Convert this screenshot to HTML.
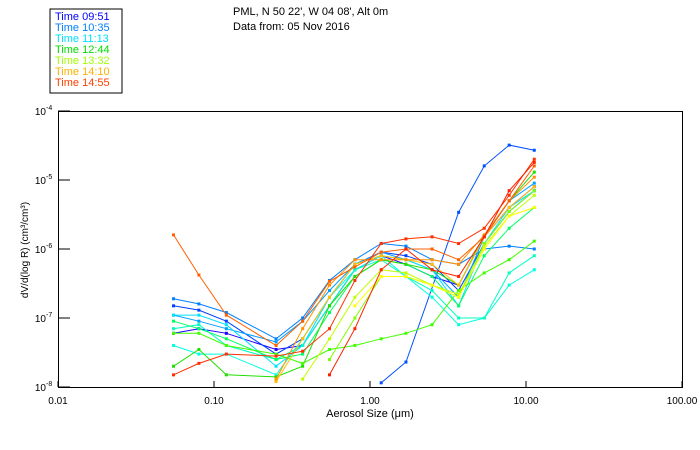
<!DOCTYPE html>
<html><head><meta charset="utf-8"><style>
body{margin:0;background:#fff;}
svg{display:block;font-family:"Liberation Sans",sans-serif;}
</style></head><body>
<svg id="chart" width="700" height="450">
<rect x="50" y="9" width="72" height="84" fill="#fff" stroke="#000"/>
<g id="legend" font-size="11"></g>
<text x="233" y="15" font-size="11">PML, N 50 22', W 04 08', Alt 0m</text>
<text x="233" y="30" font-size="11">Data from: 05 Nov 2016</text>
<g id="axes"></g>
<g id="series"></g>
<text x="370" y="417" font-size="11" text-anchor="middle">Aerosol Size (μm)</text>
<text transform="translate(28,250) rotate(-90)" font-size="10" text-anchor="middle">dV/d(log R) (cm³/cm³)</text>
</svg>
<script>
const sizes=[0.055,0.08,0.12,0.25,0.37,0.55,0.8,1.18,1.7,2.5,3.7,5.4,7.8,11.3];
const legendLabels=["Time 09:51","Time 10:35","Time 11:13","Time 12:44","Time 13:32","Time 14:10","Time 14:55"];
const legendColors=["#0000ff","#0080ff","#00e0ff","#00e000","#a0ff00","#ffb000","#ff4000"];
const xTicks=[0.01,0.1,1,10,100];
const xTickLabels=["0.01","0.10","1.00","10.00","100.00"];
const yTicks=[-8,-7,-6,-5,-4];
const seriesColors=["#2000ff","#0040ff","#0050ff","#0080ff","#00a0ff","#00e0ff","#00ffe0","#00ffc0","#00ff60","#20e000","#40ff00","#80ff00","#c0ff00","#ffff00","#ffc000","#ff9000","#ff6000","#ff3000","#ff2000"];
const s1=[6e-8,7e-8,6e-8,3.5e-8,4e-8,1.5e-7,5e-7,8e-7,6e-7,4e-7,3e-7,1.5e-6,4e-6,8e-6];
const s2=[1.5e-7,1.3e-7,9e-8,3e-8,5e-8,2e-7,6e-7,9e-7,8e-7,6e-7,2.5e-7,1.2e-6,3.5e-6,7e-6];
const s3=[null,null,null,null,null,null,null,1.15e-8,2.3e-8,null,3.4e-6,1.6e-5,3.2e-5,2.7e-5];
const s4=[1.9e-7,1.6e-7,1.2e-7,5e-8,1e-7,3.5e-7,7e-7,1.2e-6,1.1e-6,7e-7,6e-7,1e-6,1.1e-6,1e-6];
const s5=[1.1e-7,9e-8,7e-8,4.5e-8,9e-8,2.5e-7,6e-7,9e-7,7e-7,5e-7,2e-7,1.5e-6,5e-6,9e-6];
const s6=[1.1e-7,1.1e-7,8e-8,2e-8,4e-8,2e-7,6e-7,8e-7,7e-7,5e-7,1.5e-7,1.2e-6,4e-6,7e-6];
const s7=[4e-8,3e-8,3e-8,1.5e-8,5e-8,2e-7,5e-7,8e-7,4e-7,2e-7,8e-8,1e-7,3e-7,5e-7];
const s8=[7e-8,8e-8,4e-8,2.5e-8,4e-8,1.5e-7,5e-7,7e-7,4e-7,2.5e-7,1e-7,1e-7,4.5e-7,8e-7];
const s9=[9e-8,7e-8,5e-8,2.5e-8,3e-8,1.2e-7,4e-7,7e-7,6e-7,4e-7,1.5e-7,8e-7,2e-6,4e-6];
const s10=[2e-8,3.5e-8,1.5e-8,1.4e-8,2e-8,1.5e-7,4e-7,7e-7,6e-7,5e-7,3e-7,1.6e-6,5e-6,1.3e-5];
const s11=[6e-8,6e-8,4e-8,3e-8,2.2e-8,3.5e-8,4e-8,5e-8,6e-8,8e-8,2.5e-7,4.5e-7,7e-7,1.3e-6];
const s12=[null,null,null,null,null,2.5e-8,1e-7,4e-7,4e-7,3e-7,2e-7,1.2e-6,3.5e-6,7e-6];
const s13=[null,null,null,null,1.3e-8,5e-8,2e-7,5e-7,4.5e-7,3e-7,2.2e-7,1.1e-6,3e-6,6e-6];
const s14=[null,null,null,null,null,null,1.5e-7,4e-7,4e-7,3e-7,2e-7,1e-6,3e-6,4e-6];
const s15=[null,null,null,1.2e-8,5e-8,2e-7,6e-7,8e-7,7e-7,6e-7,3e-7,1.5e-6,4e-6,8e-6];
const s16=[null,null,null,1.3e-8,7e-8,3e-7,7e-7,7e-7,7e-7,7e-7,6e-7,1.6e-6,5e-6,1.1e-5];
const s17=[1.6e-6,4.2e-7,1.1e-7,4e-8,9e-8,3.4e-7,5.5e-7,9e-7,1e-6,1e-6,7e-7,1.5e-6,5e-6,1.6e-5];
const s18=[1.5e-8,2.2e-8,3e-8,2.8e-8,3.3e-8,7e-8,3.5e-7,1.2e-6,1.4e-6,1.5e-6,1.2e-6,2e-6,6e-6,2e-5];
const s19=[null,null,null,null,null,1.5e-8,7e-8,5e-7,1e-6,5e-7,4e-7,1.5e-6,7e-6,1.8e-5];
const allSeries=[s1,s2,s3,s4,s5,s6,s7,s8,s9,s10,s11,s12,s13,s14,s15,s16,s17,s18,s19];

const NS="http://www.w3.org/2000/svg";
const L=58,R=682,T=111,B=387;
function xs(v){return L+(Math.log10(v)+2)/4*(R-L);}
function ys(v){return B-(Math.log10(v)+8)/4*(B-T);}
function mk(tag,attrs,parent){const e=document.createElementNS(NS,tag);for(const k in attrs)e.setAttribute(k,attrs[k]);parent.appendChild(e);return e;}

const lg=document.getElementById('legend');
legendLabels.forEach((t,i)=>{
  const e=mk('text',{x:55,y:20+i*11,fill:legendColors[i]},lg);
  e.textContent=t;
  
  
});

const ax=document.getElementById('axes');
const frame=mk('rect',{x:L+0.5,y:T+0.5,width:R-L,height:B-T,fill:'none',stroke:'#000'},ax);


xTicks.forEach((v,i)=>{
  const x=xs(v);
  mk('line',{x1:x,x2:x,y1:B,y2:B-6,stroke:'#000'},ax);
  const t=mk('text',{x:x,y:B+17,'font-size':10,'text-anchor':'middle'},ax);
  t.textContent=xTickLabels[i];
  
  
});
yTicks.forEach((p,i)=>{
  const y=ys(Math.pow(10,p));
  mk('line',{x1:L,x2:L+12,y1:y,y2:y,stroke:'#000'},ax);
  const t=mk('text',{x:L-12,y:y+4,'font-size':10,'text-anchor':'end'},ax);
  t.textContent='10';
  
  
  const s=mk('text',{x:L-12,y:y-1,'font-size':7},ax);
  s.textContent=String(p);
});

const sg=document.getElementById('series');
allSeries.forEach((arr,si)=>{
  const col=seriesColors[si];
  const pts=[];
  arr.forEach((v,i)=>{if(v!=null)pts.push([xs(sizes[i]),ys(v)]);});
  const pl=mk('polyline',{points:pts.map(p=>p[0].toFixed(1)+','+p[1].toFixed(1)).join(' '),fill:'none',stroke:col,'stroke-width':1},sg);
  
  
  pts.forEach(p=>{
    const r=mk('rect',{x:p[0]-1.5,y:p[1]-1.5,width:3,height:3,fill:col},sg);
    
    
  });
});
</script>
</body></html>
